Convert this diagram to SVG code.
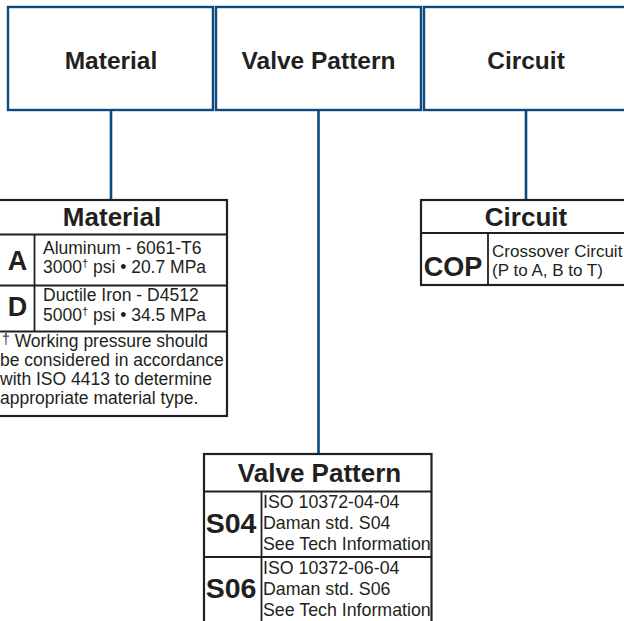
<svg xmlns="http://www.w3.org/2000/svg" width="624" height="621" viewBox="0 0 624 621">
<style>
.top{fill:#fff;stroke:#0d4a7d;stroke-width:2.4}
.conn{stroke:#0d4a7d;stroke-width:2.6;fill:none}
.tb{fill:#fff;stroke:#231f20;stroke-width:2.2}
.ln{stroke:#231f20;stroke-width:1.8;fill:none}
text{font-family:"Liberation Sans",Arial,sans-serif;fill:#231f20}
.lbl{font-size:24.5px;font-weight:bold;text-anchor:middle}
.hd{font-size:26px;font-weight:bold;text-anchor:middle}
.code{font-size:27px;font-weight:bold;text-anchor:middle}
.vcode{font-size:28.5px;font-weight:bold;text-anchor:middle}
.body{font-size:17.5px}
.bc{font-size:17px}
.bv{font-size:17.8px}
.sup{font-size:11px}
</style>
<g id="connectors">
<line class="conn" x1="111" y1="110" x2="111" y2="200"/>
<line class="conn" x1="318.5" y1="110" x2="318.5" y2="454"/>
<line class="conn" x1="526" y1="110" x2="526" y2="200"/>
</g>
<g id="top-material">
<rect class="top" x="8" y="7" width="205" height="103"/>
<text class="lbl" x="111" y="68.5">Material</text>
</g>
<g id="top-valve">
<rect class="top" x="216" y="7" width="205" height="103"/>
<text class="lbl" x="318.5" y="68.5">Valve Pattern</text>
</g>
<g id="top-circuit">
<rect class="top" x="424" y="7" width="210" height="103"/>
<text class="lbl" x="526" y="68.5">Circuit</text>
</g>
<g id="material-table">
<rect class="tb" x="-5" y="200" width="232" height="216"/>
<line class="ln" x1="-5" y1="234.5" x2="227" y2="234.5"/>
<line class="ln" x1="-5" y1="285.5" x2="227" y2="285.5"/>
<line class="ln" x1="-5" y1="331.5" x2="227" y2="331.5"/>
<line class="ln" x1="34.5" y1="234.5" x2="34.5" y2="331.5"/>
<text class="hd" x="112" y="226">Material</text>
<text class="code" x="17.5" y="270">A</text>
<text class="body" x="43" y="254">Aluminum - 6061-T6</text>
<text class="body" x="43" y="273">3000<tspan class="sup" dy="-6">†</tspan><tspan dy="6"> psi • 20.7 MPa</tspan></text>
<text class="code" x="17.5" y="316">D</text>
<text class="body" x="43" y="301">Ductile Iron - D4512</text>
<text class="body" x="43" y="321">5000<tspan class="sup" dy="-6">†</tspan><tspan dy="6"> psi • 34.5 MPa</tspan></text>
<text class="body" x="2" y="347"><tspan font-size="14px" dy="-3">†</tspan><tspan dy="3"> Working pressure should</tspan></text>
<text class="body" x="0" y="366">be considered in accordance</text>
<text class="body" x="0" y="385">with ISO 4413 to determine</text>
<text class="body" x="0" y="404">appropriate material type.</text>
</g>
<g id="circuit-table">
<rect class="tb" x="421" y="200" width="215" height="85"/>
<line class="ln" x1="421" y1="233" x2="636" y2="233"/>
<line class="ln" x1="488" y1="233" x2="488" y2="285"/>
<text class="hd" x="526" y="226">Circuit</text>
<text class="code" x="453" y="276">COP</text>
<text class="bc" x="492" y="257">Crossover Circuit</text>
<text class="bc" x="492" y="276">(P to A, B to T)</text>
</g>
<g id="valve-table">
<rect class="tb" x="204" y="454" width="227.5" height="185"/>
<line class="ln" x1="204" y1="491.5" x2="431.5" y2="491.5"/>
<line class="ln" x1="204" y1="557" x2="431.5" y2="557"/>
<line class="ln" x1="261.5" y1="491.5" x2="261.5" y2="639"/>
<text class="hd" x="319.5" y="482">Valve Pattern</text>
<text class="vcode" x="231" y="533">S04</text>
<text class="bv" x="263" y="508">ISO 10372-04-04</text>
<text class="bv" x="263" y="529">Daman std. S04</text>
<text class="bv" x="263" y="550">See Tech Information</text>
<text class="vcode" x="231" y="598">S06</text>
<text class="bv" x="263" y="574">ISO 10372-06-04</text>
<text class="bv" x="263" y="595">Daman std. S06</text>
<text class="bv" x="263" y="616">See Tech Information</text>
</g>
</svg>
